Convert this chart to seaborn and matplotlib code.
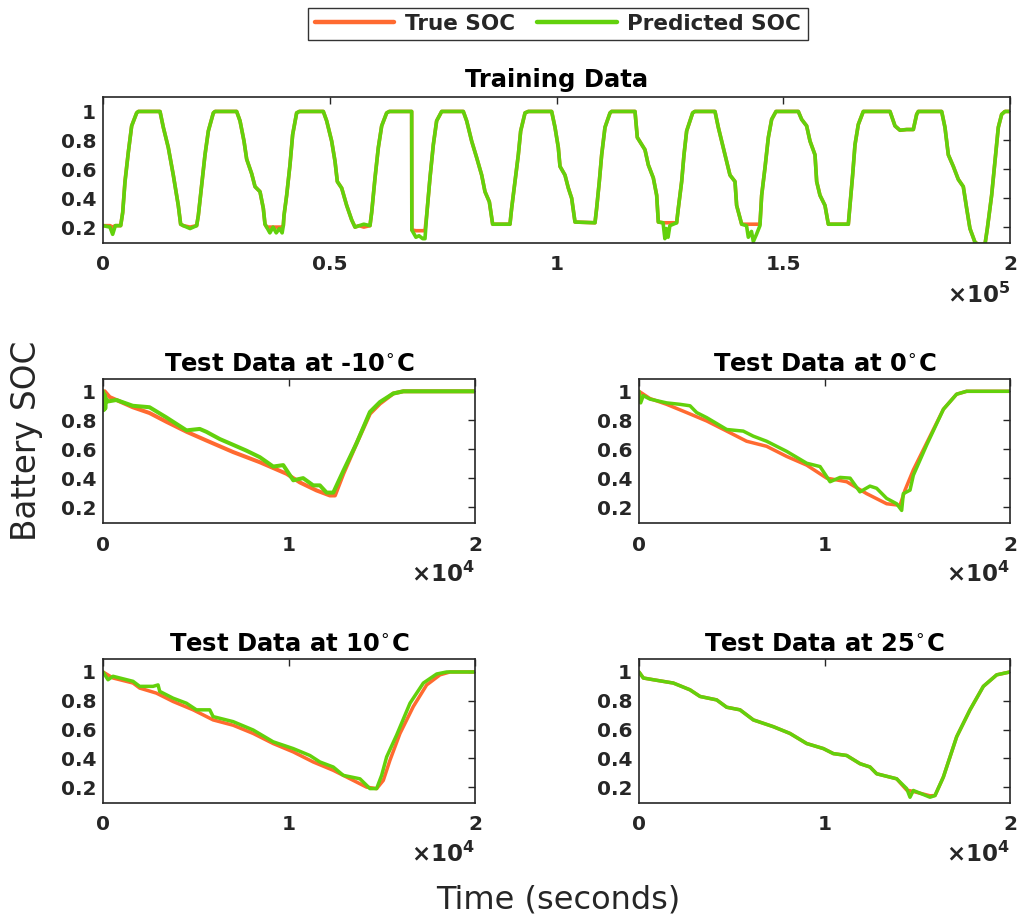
import matplotlib
matplotlib.use("Agg")
import matplotlib.pyplot as plt
import seaborn as sns
import pandas as pd
from matplotlib.lines import Line2D

# ---------------- data ----------------
train_time = [0, 1540, 2130, 2720, 3900, 4340, 4850, 5590, 6320, 7420, 7790, 12570,
              13300, 14400, 15500, 16600, 17120, 17710, 19200, 20650, 21020, 21760,
              22490, 23230, 24330, 24700, 29470, 30210, 31090, 31680, 32780, 33520,
              34620, 35350, 35720, 36090, 36800, 37500, 38200, 38900, 39500, 39760,
              39910, 40500, 41230, 41820, 42700, 43290, 48580, 49320, 50420, 51160,
              51670, 52630, 53730, 54830, 55570, 56500, 57500, 58870, 59240, 59980,
              60710, 61450, 62550, 63140, 68060, 68100, 69000, 69700, 70500, 71000,
              71370, 72100, 72840, 73570, 74680, 79450, 80190, 81290, 82400, 83500,
              84230, 85190, 85920, 89740, 90110, 90850, 91580, 92100, 93060, 93790,
              98930, 99670, 100400, 100770, 101870, 102610, 103340, 104080, 108490,
              108850, 109440, 109960, 110690, 111800, 112160, 117310, 117820, 119510,
              120250, 121350, 122090, 122450, 123500, 123900, 124200, 124600, 125000,
              126490, 126860, 127600, 128110, 128700, 130020, 130500, 134950, 135680,
              136420, 137520, 138250, 139360, 139720, 140830, 141900, 142300, 143000,
              143400, 144100, 144860, 145240, 145970, 146710, 147440, 148400, 153320,
              154060, 155160, 155900, 157000, 157370, 158100, 159200, 159940, 164350,
              164720, 165300, 165820, 166550, 167650, 173540, 174640, 175740, 177210,
              178680, 179420, 179780, 184930, 185660, 186400, 187500, 188600, 189700,
              190440, 191170, 192280, 193010, 194480, 195000, 195950, 196680, 197420,
              198160, 198890, 200000]
train_true = [0.21, 0.21, 0.20, 0.21, 0.21, 0.30, 0.52, 0.72, 0.90, 0.99, 1.00, 1.00,
              0.89, 0.75, 0.56, 0.35, 0.22, 0.21, 0.20, 0.21, 0.28, 0.49,
              0.70, 0.865, 0.99, 1.00, 1.00, 0.935, 0.795, 0.67, 0.57, 0.48,
              0.445, 0.33, 0.22, 0.20, 0.20, 0.20, 0.20, 0.20, 0.20, 0.21,
              0.28, 0.42, 0.63, 0.84, 0.99, 1.00, 1.00, 0.935, 0.795, 0.655,
              0.515, 0.47, 0.35, 0.25, 0.20, 0.21, 0.20, 0.21, 0.30, 0.54,
              0.75, 0.90, 0.99, 1.00, 1.00, 0.18, 0.175, 0.175, 0.175, 0.175,
              0.28, 0.54, 0.77, 0.935, 1.00, 1.00, 0.935, 0.795, 0.68, 0.56,
              0.445, 0.375, 0.22, 0.22, 0.33, 0.515, 0.70, 0.865, 0.99, 1.00,
              1.00, 0.89, 0.75, 0.62, 0.56, 0.47, 0.40, 0.235, 0.23,
              0.33, 0.515, 0.70, 0.89, 0.99, 1.00, 1.00, 0.82, 0.735,
              0.63, 0.54, 0.42, 0.235, 0.23, 0.23, 0.23, 0.23, 0.23,
              0.23, 0.33, 0.515, 0.70, 0.865, 0.99, 1.00, 1.00, 0.89,
              0.795, 0.655, 0.56, 0.515, 0.35, 0.22, 0.22, 0.22, 0.22,
              0.22, 0.22, 0.22, 0.42, 0.61, 0.82, 0.945, 1.00, 1.00,
              0.945, 0.90, 0.795, 0.70, 0.515, 0.42, 0.35, 0.22, 0.22,
              0.35, 0.56, 0.77, 0.91, 1.00, 1.00, 0.90, 0.87, 0.875,
              0.875, 0.98, 1.00, 1.00, 0.89, 0.70, 0.62, 0.53, 0.48,
              0.33, 0.19, 0.095, 0.08, 0.08, 0.19, 0.42, 0.655, 0.89,
              0.98, 1.00, 1.00]
train_pred = [0.21, 0.20, 0.15, 0.21, 0.21, 0.30, 0.51, 0.72, 0.90, 0.99, 1.00, 1.00,
              0.89, 0.75, 0.56, 0.35, 0.22, 0.21, 0.19, 0.21, 0.28, 0.49,
              0.70, 0.865, 0.99, 1.00, 1.00, 0.935, 0.795, 0.67, 0.57, 0.48,
              0.445, 0.33, 0.22, 0.20, 0.16, 0.20, 0.16, 0.19, 0.16, 0.21,
              0.28, 0.42, 0.63, 0.84, 0.99, 1.00, 1.00, 0.935, 0.795, 0.655,
              0.515, 0.47, 0.35, 0.25, 0.20, 0.21, 0.22, 0.21, 0.30, 0.54,
              0.75, 0.90, 0.99, 1.00, 1.00, 0.18, 0.13, 0.14, 0.12, 0.12,
              0.28, 0.54, 0.77, 0.935, 1.00, 1.00, 0.935, 0.795, 0.68, 0.56,
              0.445, 0.375, 0.22, 0.22, 0.33, 0.515, 0.70, 0.865, 0.99, 1.00,
              1.00, 0.89, 0.75, 0.62, 0.56, 0.47, 0.40, 0.235, 0.23,
              0.33, 0.515, 0.70, 0.89, 0.99, 1.00, 1.00, 0.82, 0.735,
              0.63, 0.54, 0.42, 0.235, 0.23, 0.12, 0.19, 0.13, 0.21,
              0.23, 0.33, 0.515, 0.70, 0.865, 0.99, 1.00, 1.00, 0.89,
              0.795, 0.655, 0.56, 0.515, 0.35, 0.22, 0.21, 0.13, 0.17,
              0.10, 0.15, 0.21, 0.42, 0.61, 0.82, 0.945, 1.00, 1.00,
              0.945, 0.90, 0.795, 0.70, 0.515, 0.42, 0.35, 0.22, 0.22,
              0.35, 0.56, 0.77, 0.91, 1.00, 1.00, 0.90, 0.87, 0.875,
              0.875, 0.98, 1.00, 1.00, 0.89, 0.70, 0.62, 0.53, 0.48,
              0.33, 0.19, 0.095, 0.08, 0.08, 0.19, 0.42, 0.655, 0.89,
              0.98, 1.00, 1.00]

m10_true_t = [0, 90, 360, 720, 1600, 2500, 3400, 4500, 5560, 7000, 8430, 9870, 10590,
              11480, 12200, 12470, 12920, 13630, 14350, 14890, 15610, 16150, 20000]
m10_true_v = [0.99, 1.0, 0.96, 0.94, 0.89, 0.85, 0.79, 0.72, 0.66, 0.58, 0.51, 0.43, 0.37,
              0.315, 0.28, 0.28, 0.43, 0.64, 0.845, 0.915, 0.985, 1.0, 1.0]
m10_pred_t = [0, 40, 80, 120, 160, 270, 720, 1600, 2500, 3400, 4490, 5200, 5560, 6280,
              7000, 7710, 8430, 9150, 9690, 10230, 10760, 11300, 11660, 12020, 12380,
              12920, 13630, 14350, 14890, 15610, 16150, 20000]
m10_pred_v = [1.0, 0.87, 0.98, 0.88, 0.95, 0.93, 0.94, 0.90, 0.89, 0.82, 0.73, 0.74, 0.72,
              0.67, 0.63, 0.59, 0.545, 0.48, 0.49, 0.385, 0.40, 0.35, 0.35, 0.30, 0.30,
              0.45, 0.64, 0.857, 0.926, 0.985, 1.0, 1.0]

c0_true_t = [0, 590, 1490, 2570, 3650, 4730, 5800, 6880, 7960, 9040, 10120, 11200, 12270,
             13350, 14070, 14340, 14790, 15510, 16410, 17120, 17660, 20000]
c0_true_v = [1.0, 0.95, 0.91, 0.853, 0.795, 0.725, 0.655, 0.62, 0.55, 0.49, 0.40, 0.375,
             0.293, 0.223, 0.212, 0.317, 0.457, 0.643, 0.876, 0.98, 1.0, 1.0]
c0_pred_t = [0, 90, 230, 590, 1490, 2210, 2750, 3110, 3650, 4730, 5620, 6160, 6880, 7960,
             9040, 9760, 10300, 10840, 11380, 11910, 12450, 12810, 13350, 13890, 14160,
             14250, 14610, 14790, 15510, 16410, 17120, 17660, 20000]
c0_pred_v = [1.0, 0.92, 0.97, 0.946, 0.92, 0.91, 0.90, 0.853, 0.818, 0.736, 0.725, 0.69,
             0.655, 0.585, 0.503, 0.48, 0.375, 0.405, 0.40, 0.305, 0.345, 0.33, 0.26, 0.223,
             0.177, 0.293, 0.317, 0.42, 0.63, 0.876, 0.98, 1.0, 1.0]

c10_true_t = [0, 540, 1615, 1973, 2870, 3767, 4844, 5920, 6997, 8073, 9149, 10226, 11302,
              12379, 13455, 14173, 14711, 15070, 15428, 15967, 16684, 17402, 18119,
              18658, 20000]
c10_true_v = [1.0, 0.958, 0.923, 0.888, 0.853, 0.795, 0.737, 0.667, 0.63, 0.573, 0.503,
              0.445, 0.375, 0.317, 0.247, 0.20, 0.19, 0.247, 0.387, 0.573, 0.76, 0.91,
              0.98, 1.0, 1.0]
c10_pred_t = [0, 269, 540, 1615, 1973, 2691, 2960, 3050, 3767, 4485, 5023, 5741, 5920,
              6997, 8073, 9149, 10226, 11123, 11661, 12379, 12917, 13814, 14352, 14711,
              14980, 15249, 15787, 16505, 17222, 17940, 18478, 20000]
c10_pred_v = [1.0, 0.946, 0.97, 0.935, 0.90, 0.90, 0.91, 0.865, 0.818, 0.783, 0.737, 0.737,
              0.69, 0.655, 0.597, 0.515, 0.468, 0.42, 0.375, 0.34, 0.282, 0.258, 0.19, 0.19,
              0.282, 0.41, 0.562, 0.783, 0.923, 0.986, 1.0, 1.0]

c25_true_t = [0, 234, 773, 1851, 2749, 3289, 4187, 4726, 5445, 6164, 7242, 8140, 9039,
              9937, 10477, 11195, 11914, 12453, 12813, 13891, 14430, 14790, 15688, 15957,
              16407, 17125, 17844, 18563, 19282, 20000]
c25_true_v = [1.0, 0.958, 0.946, 0.923, 0.876, 0.83, 0.806, 0.755, 0.737, 0.667, 0.62,
              0.573, 0.503, 0.468, 0.433, 0.42, 0.363, 0.34, 0.293, 0.258, 0.18, 0.17,
              0.14, 0.142, 0.27, 0.55, 0.737, 0.90, 0.98, 1.0]
c25_pred_t = [0, 234, 773, 1851, 2749, 3289, 4187, 4726, 5445, 6164, 7242, 8140, 9039,
              9937, 10477, 11195, 11914, 12453, 12813, 13891, 14430, 14610, 14790, 15688,
              15957, 16407, 17125, 17844, 18563, 19282, 20000]
c25_pred_v = [1.0, 0.958, 0.946, 0.923, 0.876, 0.83, 0.806, 0.755, 0.737, 0.667, 0.62,
              0.573, 0.503, 0.468, 0.433, 0.42, 0.363, 0.34, 0.293, 0.258, 0.19, 0.13,
              0.177, 0.13, 0.142, 0.27, 0.55, 0.737, 0.90, 0.98, 1.0]

series_names = ["True SOC", "Predicted SOC"]
panel_titles = ["Training Data", r"Test Data at -10$^{\circ}$C", r"Test Data at 0$^{\circ}$C",
                r"Test Data at 10$^{\circ}$C", r"Test Data at 25$^{\circ}$C"]
ytick_vals = [0.2, 0.4, 0.6, 0.8, 1.0]
ytick_labels = ["0.2", "0.4", "0.6", "0.8", "1"]
train_xticks = [0, 50000, 100000, 150000, 200000]
train_xlabels = ["0", "0.5", "1", "1.5", "2"]
test_xticks = [0, 10000, 20000]
test_xlabels = ["0", "1", "2"]

# ---------------- style ----------------
sns.set_style("white")
plt.rcParams["font.family"] = ["DejaVu Sans"]
ORANGE = "#ff6a30"
GREEN = "#62d10c"
DARK = "#262626"
palette = {series_names[0]: ORANGE, series_names[1]: GREEN}

W, H = 1022, 922
fig = plt.figure(figsize=(W / 100, H / 100), dpi=100)


def px_axes(left, top, right, bottom):
    return fig.add_axes([left / W, 1 - bottom / H, (right - left) / W, (bottom - top) / H])


ax_train = px_axes(103, 97, 1010, 243)
ax_m10 = px_axes(103, 379, 475, 523)
ax_0 = px_axes(639, 379, 1010, 523)
ax_10 = px_axes(103, 659, 475, 803)
ax_25 = px_axes(639, 659, 1010, 803)


def make_df(tt, tv, pt, pv):
    d1 = pd.DataFrame({"t": tt, "soc": tv, "series": series_names[0]})
    d2 = pd.DataFrame({"t": pt, "soc": pv, "series": series_names[1]})
    return pd.concat([d1, d2], ignore_index=True)


panels = [
    (ax_train, make_df(train_time, train_true, train_time, train_pred), (0.09, 1.10),
     (0, 200000), train_xticks, train_xlabels, 5, 2.6),
    (ax_m10, make_df(m10_true_t, m10_true_v, m10_pred_t, m10_pred_v), (0.09, 1.085),
     (0, 20000), test_xticks, test_xlabels, 4, 2.9),
    (ax_0, make_df(c0_true_t, c0_true_v, c0_pred_t, c0_pred_v), (0.09, 1.085),
     (0, 20000), test_xticks, test_xlabels, 4, 2.5),
    (ax_10, make_df(c10_true_t, c10_true_v, c10_pred_t, c10_pred_v), (0.09, 1.09),
     (0, 20000), test_xticks, test_xlabels, 4, 2.5),
    (ax_25, make_df(c25_true_t, c25_true_v, c25_pred_t, c25_pred_v), (0.09, 1.09),
     (0, 20000), test_xticks, test_xlabels, 4, 2.5),
]

for i, (ax, df, ylim, xlim, xt, xl, expo, lw) in enumerate(panels):
    sns.lineplot(data=df, x="t", y="soc", hue="series", palette=palette,
                 hue_order=series_names, estimator=None, errorbar=None, sort=False,
                 linewidth=lw, legend=False, ax=ax)
    ax.set_xlim(*xlim)
    ax.set_ylim(*ylim)
    ax.set_xticks(xt)
    ax.set_xticklabels(xl)
    ax.set_yticks(ytick_vals)
    ax.set_yticklabels(ytick_labels)
    ax.set_xlabel("")
    ax.set_ylabel("")
    ax.tick_params(direction="in", length=5, width=1.0, color=DARK, top=True, right=True,
                   labelsize=14.5, labelcolor=DARK)
    ax.tick_params(axis="x", pad=9)
    ax.tick_params(axis="y", pad=5)
    for lab in ax.get_xticklabels() + ax.get_yticklabels():
        lab.set_fontweight("bold")
    for sp in ax.spines.values():
        sp.set_visible(True)
        sp.set_color(DARK)
        sp.set_linewidth(1.2)
    ax.set_title(panel_titles[i], fontsize=17.5, fontweight="bold", color="black",
                 pad=7 if i == 0 else 5)
    ax.text(1.0, -0.27, r"$\mathbf{\times10^{%d}}$" % expo, transform=ax.transAxes,
            ha="right", va="top", fontsize=16.5, color=DARK)

fig.text(27 / W, 1 - 441 / H, "Battery SOC", rotation=90, ha="center", va="center",
         fontsize=23.5, color=DARK)
fig.text(558 / W, 1 - 900 / H, "Time (seconds)", ha="center", va="center",
         fontsize=23, color=DARK)

handles = [Line2D([0], [0], color=ORANGE, lw=3.2), Line2D([0], [0], color=GREEN, lw=3.2)]
leg = fig.legend(handles, series_names, loc="center", bbox_to_anchor=(558 / W, 1 - 24 / H),
                 ncol=2, frameon=True, fancybox=False, shadow=False, handlelength=3.7,
                 handletextpad=0.5, columnspacing=1.0, borderpad=0.3,
                 prop={"weight": "bold", "size": 15.5})
leg.get_frame().set_edgecolor("black")
leg.get_frame().set_linewidth(1.0)

fig.savefig("out.png", dpi=100, facecolor="white")
